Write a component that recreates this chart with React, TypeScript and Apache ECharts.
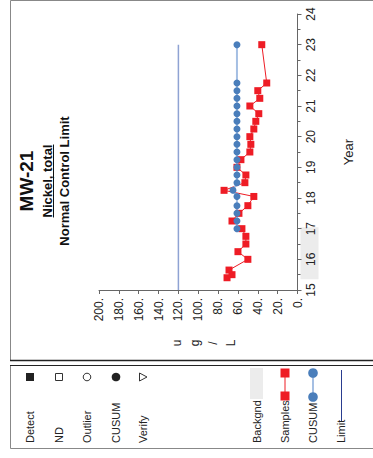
import React, { useEffect, useRef } from "react";
import * as echarts from "echarts";

const sampleYears = [15.4, 15.5, 15.65, 16.0, 16.25, 16.5, 16.75, 17.0, 17.25, 17.5, 17.75, 18.05, 18.25, 18.5, 18.75, 19.0, 19.25, 19.5, 19.75, 20.0, 20.25, 20.5, 20.75, 21.0, 21.25, 21.5, 21.75, 23.0];
const sampleValues = [71, 66, 69, 50, 60, 52, 52, 56, 66, 59, 50, 44, 74, 53, 52, 61, 57, 48, 47, 48, 44, 42, 39, 48, 38, 40, 31, 36];

const cusumYears = [17.0, 17.25, 17.5, 17.75, 18.05, 18.25, 18.5, 18.75, 19.0, 19.25, 19.5, 19.75, 20.0, 20.25, 20.5, 20.75, 21.0, 21.25, 21.5, 21.75, 23.0];
const cusumValues = [61, 61, 61, 61, 61, 65, 61, 61, 61, 61, 61, 61, 61, 61, 61, 61, 61, 61, 61, 61, 61];

const limitValue = 120;
const limitYears = [15, 23];
const backgroundRange = [15.35, 17.05];

const valueTicks = { min: 0, max: 200, interval: 20 };
const yearTicks = { min: 15, max: 24, interval: 1 };

const titleLines = ["MW-21", "Nickel, total", "Normal Control Limit"];
const unitLabel = ["u", "g", "/", "L"];
const legendLabels = ["Detect", "ND", "Outlier", "CUSUM", "Verify", "Backgnd", "Samples", "CUSUM", "Limit"];

const FONT = "Liberation Sans, Arial, sans-serif";
const RED = "#ee1c25";
const BLUE = "#4a7ebb";
const LIGHT_BLUE = "#a5bfe3";

function measure(text: string, font: string): number {
  const c = document.createElement("canvas").getContext("2d");
  if (!c) return text.length * 7;
  c.font = font;
  return c.measureText(text).width;
}

export default function App() {
  const ref = useRef<HTMLDivElement>(null);
  useEffect(() => {
    if (!ref.current) return;
    const chart = echarts.init(ref.current, undefined, { renderer: "svg" });
    const rot = Math.PI / 2;
    const titleCenterY = 181;
    const nickelW = measure(titleLines[1], `bold 13px ${FONT}`);

    const legendX = [30, 59, 87, 116, 143, 257, 285, 313, 341];
    const legendText = legendLabels.map((t, i) => ({
      type: "text",
      x: legendX[i],
      y: 443,
      rotation: rot,
      style: { text: t, fontSize: 11, fontFamily: FONT, fill: "#222", align: "left", verticalAlign: "middle" },
    }));

    const graphic: any[] = [
      { type: "rect", shape: { x: 10.5, y: 0.5, width: 400, height: 360 }, style: { fill: "none", stroke: "#888", lineWidth: 1 } },
      { type: "line", shape: { x1: 10, y1: 360.5, x2: 373, y2: 360.5 }, style: { stroke: "#222", lineWidth: 1.5 } },
      { type: "rect", shape: { x: 10.5, y: 365.5, width: 400, height: 83 }, style: { fill: "none", stroke: "#888", lineWidth: 1 } },
      { type: "line", shape: { x1: 10, y1: 365.5, x2: 373, y2: 365.5 }, style: { stroke: "#222", lineWidth: 1.2 } },
      { type: "text", x: 26, y: titleCenterY, rotation: rot, style: { text: titleLines[0], fontSize: 19, fontWeight: "bold", fontFamily: FONT, fill: "#111", align: "center", verticalAlign: "middle" } },
      { type: "text", x: 47, y: titleCenterY, rotation: rot, style: { text: titleLines[1], fontSize: 13, fontWeight: "bold", fontFamily: FONT, fill: "#111", align: "center", verticalAlign: "middle" } },
      { type: "line", shape: { x1: 53.5, y1: titleCenterY - nickelW / 2, x2: 53.5, y2: titleCenterY + nickelW / 2 }, style: { stroke: "#111", lineWidth: 1 } },
      { type: "text", x: 64, y: titleCenterY, rotation: rot, style: { text: titleLines[2], fontSize: 13, fontWeight: "bold", fontFamily: FONT, fill: "#111", align: "center", verticalAlign: "middle" } },
      { type: "text", x: 204, y: 343, rotation: rot, style: { text: unitLabel.join("\n"), fontSize: 12, lineHeight: 18, fontFamily: FONT, fill: "#222", align: "center", verticalAlign: "middle" } },
      { type: "rect", shape: { x: 26, y: 373, width: 8, height: 8 }, style: { fill: "#222" } },
      { type: "rect", shape: { x: 55.5, y: 373.5, width: 7, height: 7 }, style: { fill: "#fff", stroke: "#333", lineWidth: 1 } },
      { type: "circle", shape: { cx: 87, cy: 377, r: 3.8 }, style: { fill: "#fff", stroke: "#333", lineWidth: 1 } },
      { type: "circle", shape: { cx: 116, cy: 377, r: 4.3 }, style: { fill: "#222" } },
      { type: "polygon", shape: { points: [[139.5, 373], [147, 377], [139.5, 381]] }, style: { fill: "#fff", stroke: "#333", lineWidth: 1 } },
      { type: "rect", shape: { x: 250, y: 368, width: 13, height: 31 }, style: { fill: "#ececec" } },
      { type: "line", shape: { x1: 285, y1: 373, x2: 285, y2: 396 }, style: { stroke: RED, lineWidth: 1 } },
      { type: "rect", shape: { x: 280.5, y: 368.5, width: 9, height: 9 }, style: { fill: RED } },
      { type: "rect", shape: { x: 280.5, y: 391.5, width: 9, height: 9 }, style: { fill: RED } },
      { type: "line", shape: { x1: 313, y1: 373, x2: 313, y2: 397 }, style: { stroke: LIGHT_BLUE, lineWidth: 2 } },
      { type: "circle", shape: { cx: 313, cy: 373, r: 4.8 }, style: { fill: BLUE } },
      { type: "circle", shape: { cx: 313, cy: 397, r: 4.8 }, style: { fill: BLUE } },
      { type: "line", shape: { x1: 341.5, y1: 370, x2: 341.5, y2: 422 }, style: { stroke: "#2a3d8f", lineWidth: 1 } },
      ...legendText,
    ];

    const axisLabelStyle = { fontFamily: FONT, color: "#222" };

    chart.setOption({
      animation: false,
      grid: { left: 99, right: 75.5, top: 14, bottom: 168, containLabel: false },
      xAxis: {
        type: "value",
        min: valueTicks.min,
        max: valueTicks.max,
        interval: valueTicks.interval,
        inverse: true,
        position: "bottom",
        axisLine: { show: true, onZero: false, lineStyle: { color: "#666", width: 1 } },
        axisTick: { show: true, length: 4, lineStyle: { color: "#666" } },
        axisLabel: { ...axisLabelStyle, fontSize: 12, rotate: 90, margin: 8, formatter: (v: number) => `${v}.` },
        splitLine: { show: false },
      },
      yAxis: {
        type: "value",
        min: yearTicks.min,
        max: yearTicks.max,
        interval: yearTicks.interval,
        position: "right",
        name: "Year",
        nameLocation: "middle",
        nameRotate: 90,
        nameGap: 44,
        nameTextStyle: { fontFamily: FONT, fontSize: 13, color: "#222" },
        axisLine: { show: true, onZero: false, lineStyle: { color: "#666", width: 1 } },
        axisTick: { show: true, length: 4, lineStyle: { color: "#666" } },
        minorTick: { show: true, splitNumber: 2, length: 3, lineStyle: { color: "#666" } },
        axisLabel: { ...axisLabelStyle, fontSize: 12, rotate: 90, margin: 7 },
        splitLine: { show: false },
      },
      graphic,
      series: [
        {
          type: "custom",
          name: "Backgnd",
          z: -1,
          clip: false,
          renderItem: (_p: any, api: any) => {
            const a = api.coord([0, api.value(0)]);
            const b = api.coord([0, api.value(1)]);
            return {
              type: "rect",
              shape: { x: a[0] + 3, y: b[1], width: 18, height: a[1] - b[1] },
              style: { fill: "#ececec" },
            };
          },
          data: [[backgroundRange[0], backgroundRange[1]]],
        },
        {
          type: "line",
          name: "Limit",
          data: limitYears.map((y) => [limitValue, y]),
          symbol: "none",
          lineStyle: { color: "#8fa3d3", width: 1.5 },
        },
        {
          type: "line",
          name: "Samples",
          data: sampleYears.map((y, i) => [sampleValues[i], y]),
          symbol: "rect",
          symbolSize: 7,
          itemStyle: { color: RED },
          lineStyle: { color: RED, width: 1 },
        },
        {
          type: "line",
          name: "CUSUM",
          data: cusumYears.map((y, i) => [cusumValues[i], y]),
          symbol: "circle",
          symbolSize: 7,
          itemStyle: { color: BLUE },
          lineStyle: { color: LIGHT_BLUE, width: 2 },
        },
      ],
    });
    return () => chart.dispose();
  }, []);
  return <div ref={ref} style={{ position: "fixed", left: 0, top: 0, width: 373, height: 458, background: "#fff" }} />;
}
